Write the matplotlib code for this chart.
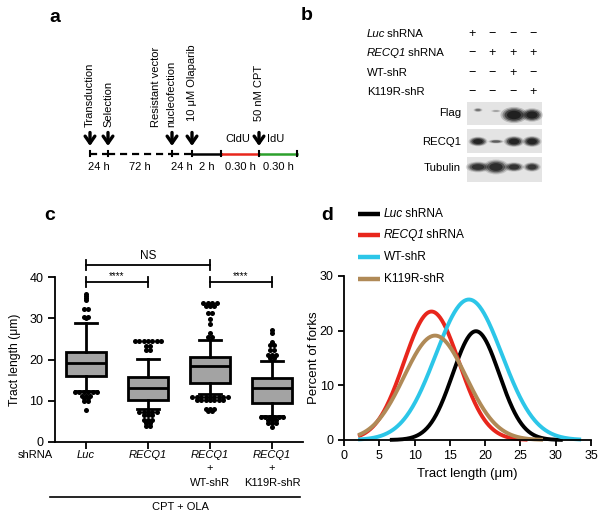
import numpy as np
import matplotlib.pyplot as plt
from matplotlib.patches import Ellipse, Rectangle

plt.rcParams['font.family'] = ['Liberation Sans', 'DejaVu Sans']

# ---- data ----
# a: treatment schedule
step_labels = ['24 h', '72 h', '24 h', '2 h', '0.30 h', '0.30 h']
event_labels = ['Transduction', 'Selection', 'Resistant vector', '10 μM Olaparib', '50 nM CPT']

# b: western blot (italic part, plain part)
row_labels = [('Luc', ' shRNA'), ('RECQ1', ' shRNA'), ('', 'WT-shR'), ('', 'K119R-shR')]
luc_sh = ['+', '−', '−', '−']
recq1_sh = ['−', '+', '+', '+']
wt_shr = ['−', '−', '+', '−']
k119r_shr = ['−', '−', '−', '+']
blot_labels = ['Flag', 'RECQ1', 'Tubulin']
flag_signal = [0.35, 0.2, 1.0, 0.95]
recq1_signal = [0.9, 0.45, 0.9, 0.9]
tubulin_signal = [0.75, 0.8, 0.75, 0.7]

# c: tract length box plots
box_q1 = [16.1, 10.1, 14.4, 9.3]
box_med = [19.1, 13.0, 18.4, 13.1]
box_q3 = [21.9, 15.7, 20.7, 15.4]
whis_lo = [12.3, 7.9, 11.5, 6.3]
whis_hi = [28.8, 20.1, 24.7, 19.7]
out_luc = [35.9, 35.4, 34.9, 34.5, 32.3, 32.3, 30.4, 30.4, 30.0,
           12.2, 12.2, 12.2, 12.2, 12.2, 12.2, 11.2, 11.2, 11.2, 10.6, 10.6, 10.0, 10.0, 7.7]
out_recq1 = [24.5] * 7 + [23.2, 23.2, 22.4, 22.4] + [7.3] * 5 + [6.5] * 3 + [5.4] * 3 + [4.6, 4.6, 3.9, 3.9]
out_wt = [33.8] * 4 + [32.9] * 3 + [31.4, 31.4, 29.8, 28.6, 26.5, 25.5, 25.5] + [10.9] * 9 + [10.1] * 7 + [7.9] * 3 + [7.4, 7.4]
out_k119r = [27.2, 26.4, 24.3, 23.6, 23.6, 22.3, 22.3, 21.2, 21.2, 21.2, 20.4, 20.4] + [6.1] * 6 + [5.4] * 3 + [4.6] * 3 + [3.6]
outliers = [out_luc, out_recq1, out_wt, out_k119r]

# d: gaussian fits of tract length distributions
fit_names = [('Luc', ' shRNA'), ('RECQ1', ' shRNA'), ('', 'WT-shR'), ('', 'K119R-shR')]
fit_peak = [19.9, 23.5, 25.7, 19.1]
fit_mean = [18.7, 12.4, 17.7, 12.9]
fit_sd = [3.3, 3.9, 4.7, 4.4]
fit_start = [6.5, 2.0, 2.0, 2.0]
fit_end = [31.0, 26.0, 33.6, 28.2]
fit_colors = ['#000000', '#e8261c', '#2cc6e8', '#b08a57']

W, H = 603, 516
fig = plt.figure(figsize=(W / 100, H / 100), dpi=100)


def px_rect(x0, y0, x1, y1):
    return [x0 / W, 1 - y1 / H, (x1 - x0) / W, (y1 - y0) / H]


def rich(ax, x, y, parts, fs):
    # italic piece followed by plain piece, left aligned
    ital, plain = parts
    if ital:
        t = ax.text(x, y, ital, style='italic', ha='left', va='center', fontsize=fs)
        ax.annotate(plain, xy=(1, 0), xycoords=t, xytext=(-1.2, 0), textcoords='offset points',
                    ha='left', va='bottom', fontsize=fs)
    else:
        ax.text(x, y, plain, ha='left', va='center', fontsize=fs)


# ---- panel c ----
ax_c = fig.add_axes(px_rect(55, 277.3, 303, 441.7))
pos = np.arange(1, 5)
stats = [dict(med=box_med[i], q1=box_q1[i], q3=box_q3[i], whislo=whis_lo[i],
              whishi=whis_hi[i], fliers=[]) for i in range(4)]
ax_c.bxp(stats, positions=pos, widths=0.66, capwidths=0.35, patch_artist=True, showfliers=False,
         boxprops=dict(facecolor='#a3a3a3', edgecolor='black', linewidth=2),
         whiskerprops=dict(color='black', linewidth=2),
         capprops=dict(color='black', linewidth=2),
         medianprops=dict(color='black', linewidth=2))
for i, vals in enumerate(outliers):
    vals = np.array(vals)
    for v in np.unique(vals):
        n = int(np.sum(vals == v))
        offs = (np.arange(n) - (n - 1) / 2) * 0.072
        ax_c.scatter(pos[i] + offs, [v] * n, s=13, color='black', linewidths=0, zorder=4, clip_on=False)

ax_c.set_xlim(0.5, 4.5)
ax_c.set_ylim(0, 40)
ax_c.set_yticks([0, 10, 20, 30, 40])
ax_c.set_xticks(pos)
ax_c.set_xticklabels([])
for s in ['top', 'right']:
    ax_c.spines[s].set_visible(False)
for s in ['left', 'bottom']:
    ax_c.spines[s].set_linewidth(1.3)
ax_c.tick_params(width=1.3, length=5, labelsize=9)
ax_c.set_ylabel('Tract length (μm)', fontsize=8.7)
ax_c.yaxis.set_label_coords(-0.137, 0.5)


def bracket(ax, x1, x2, y, half, txt, ty, fs):
    ax.plot([x1, x2], [y, y], color='black', lw=1.3, clip_on=False)
    for x in (x1, x2):
        ax.plot([x, x], [y - half, y + half], color='black', lw=1.3, clip_on=False)
    ax.text((x1 + x2) / 2, ty, txt, ha='center', va='center', fontsize=fs)


bracket(ax_c, 1, 3, 43.0, 1.15, 'NS', 45.1, 8.5)
bracket(ax_c, 1, 2, 38.8, 1.2, '****', 40.2, 7)
bracket(ax_c, 3, 4, 38.8, 1.2, '****', 40.2, 7)


def under(ax, x, text, dy, italic=False):
    ax.annotate(text, xy=(x, 0), xycoords=('data', 'axes fraction'), xytext=(0, -dy),
                textcoords='offset points', ha='center', va='center', fontsize=8,
                style='italic' if italic else 'normal')


under(ax_c, 1, 'Luc', 9.6, True)
under(ax_c, 2, 'RECQ1', 9.6, True)
for p, extra in [(3, 'WT-shR'), (4, 'K119R-shR')]:
    under(ax_c, p, 'RECQ1', 9.6, True)
    under(ax_c, p, '+', 18.9)
    under(ax_c, p, extra, 29.7)

# ---- panel d ----
ax_d = fig.add_axes(px_rect(344, 276, 591, 440))
for i in range(4):
    xs = np.linspace(fit_start[i], fit_end[i], 300)
    ys = fit_peak[i] * np.exp(-0.5 * ((xs - fit_mean[i]) / fit_sd[i]) ** 2)
    ax_d.plot(xs, ys, color=fit_colors[i], lw=2.8, solid_capstyle='butt', clip_on=False)
ax_d.set_xlim(0, 35)
ax_d.set_ylim(0, 30)
ax_d.set_xticks(range(0, 36, 5))
ax_d.set_yticks([0, 10, 20, 30])
ax_d.set_facecolor('none')
for s in ['top', 'right']:
    ax_d.spines[s].set_visible(False)
for s in ['left', 'bottom']:
    ax_d.spines[s].set_linewidth(1.3)
ax_d.tick_params(width=1.3, length=4, labelsize=9)
ax_d.set_xlabel('Tract length (μm)', fontsize=9.5)
ax_d.set_ylabel('Percent of forks', fontsize=9.5)
ax_d.yaxis.set_label_coords(-0.097, 0.5)

# ---- overlay in pixel coordinates: panels a, b and extra labels ----
ov = fig.add_axes([0, 0, 1, 1], zorder=5)
ov.set_xlim(0, W)
ov.set_ylim(H, 0)
ov.axis('off')

for lbl, x, y in [('a', 55, 17), ('b', 307, 15), ('c', 50, 215), ('d', 327, 215)]:
    ov.text(x, y, lbl, fontsize=14, fontweight='bold', ha='center', va='center')

# panel a timeline
node_x = [90, 108, 172, 192, 221, 259, 297]
line_y = 153.5
seg_style = ['dash', 'dash', 'dash', '#000000', '#e8261c', '#2ca02c']
for i in range(6):
    x0, x1 = node_x[i], node_x[i + 1]
    if seg_style[i] == 'dash':
        ov.plot([x0, x1], [line_y, line_y], color='black', lw=1.6, dashes=(3.2, 2.2))
    else:
        ov.plot([x0, x1], [line_y, line_y], color=seg_style[i], lw=1.8)
    ov.text((x0 + x1) / 2, 166.5, step_labels[i], ha='center', va='center', fontsize=8)
for x in node_x:
    ov.plot([x, x], [line_y - 2.5, line_y + 2.5], color='black', lw=1.5)

arrow_x = [90, 108, 172, 192, 259]
for x in arrow_x:
    ov.annotate('', xy=(x, 146), xytext=(x, 132.5),
                arrowprops=dict(arrowstyle='->,head_length=0.5,head_width=0.35', lw=2.4,
                                color='black', shrinkA=0, shrinkB=0))
text_pos = [(90, 127), (108, 127), (156, 127), (192, 121), (259, 121)]
for (x, y), t in zip(text_pos, event_labels):
    ov.text(x, y, t, rotation=90, ha='center', va='bottom', fontsize=8)
ov.text(171, 127, 'nucleofection', rotation=90, ha='center', va='bottom', fontsize=8)
ov.text(238, 139, 'CldU', ha='center', va='center', fontsize=8)
ov.text(276, 139, 'IdU', ha='center', va='center', fontsize=8)

# panel b blot
row_y = [34, 53, 73, 92]
col_x = [472, 492, 513, 533]
for y, lbl, signs in zip(row_y, row_labels, [luc_sh, recq1_sh, wt_shr, k119r_shr]):
    rich(ov, 367, y, lbl, 8.2)
    for x, sg in zip(col_x, signs):
        ov.text(x, y, sg, ha='center', va='center', fontsize=9)

box_rows = [(101.7, 125.0), (129.3, 153.3), (156.7, 181.7)]
label_y = [113, 142, 168]
lane_x = [478, 496, 514, 532]
band_y = [[110, 111, 115, 115], [141.5] * 4, [167] * 4]
band_w = [[7, 8, 20, 16], [14, 12, 15, 14], [18, 19, 15, 13]]
band_h = [[3, 2, 12, 10], [7, 3, 8, 8], [8, 11, 7, 7]]
signals = [flag_signal, recq1_signal, tubulin_signal]
for r in range(3):
    y0, y1 = box_rows[r]
    ov.add_patch(Rectangle((466.7, y0), 75, y1 - y0, facecolor='#e4e4e4', edgecolor='none'))
    ov.text(461, label_y[r], blot_labels[r], ha='right', va='center', fontsize=8.2)
    for j in range(4):
        s = signals[r][j]
        for k, a in [(1.35, 0.2), (1.15, 0.35), (0.95, 0.6), (0.7, 0.9)]:
            ov.add_patch(Ellipse((lane_x[j], band_y[r][j]), band_w[r][j] * k, band_h[r][j] * k,
                                 facecolor='#1c1c1c', edgecolor='none', alpha=a * s))

# panel c extra text
ov.text(35, 455, 'shRNA', ha='center', va='center', fontsize=8)
ov.plot([50, 300], [497, 497], color='black', lw=1.2)
ov.text(180, 507, 'CPT + OLA', ha='center', va='center', fontsize=8)

# panel d legend
leg_y = [214, 235, 257, 279]
for y, name, c in zip(leg_y, fit_names, fit_colors):
    ov.plot([358, 380], [y, y], color=c, lw=3.2, solid_capstyle='butt')
    rich(ov, 384, y, name, 8.6)

fig.savefig('out.png', dpi=100)
